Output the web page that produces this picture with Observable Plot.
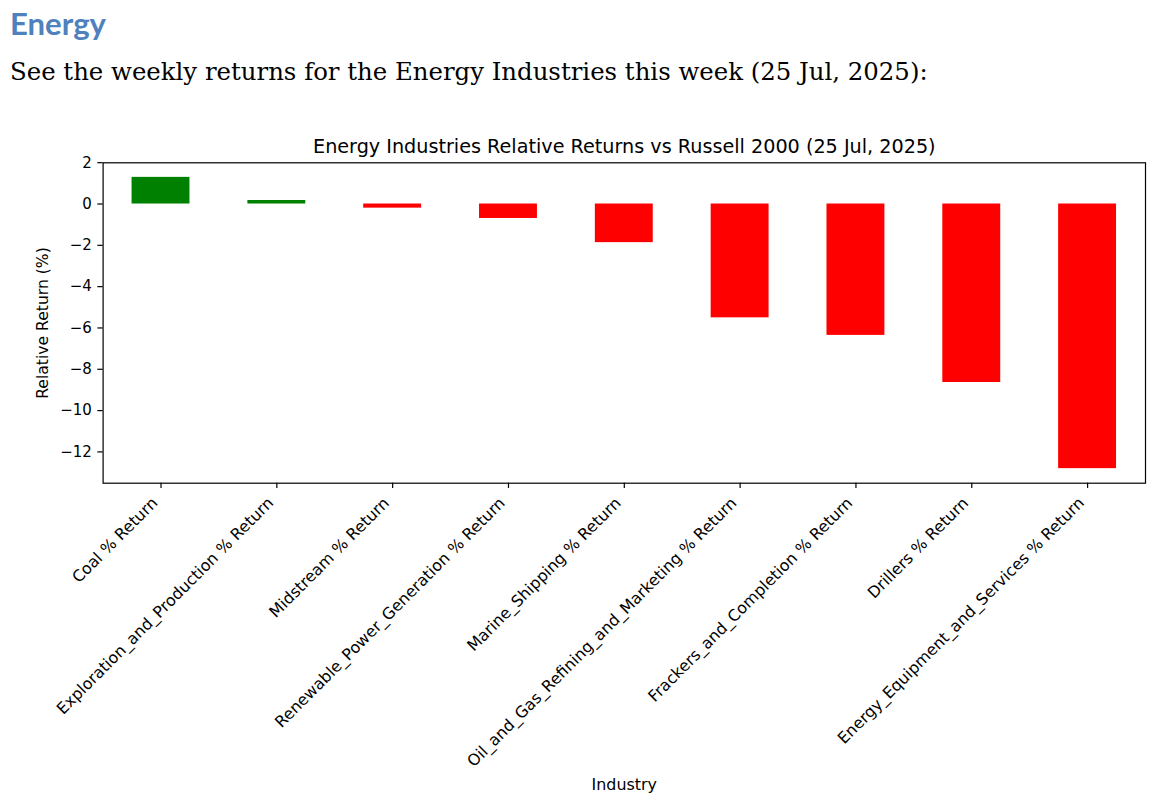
<!DOCTYPE html>
<html>
<head>
<meta charset="utf-8">
<script src="https://cdn.jsdelivr.net/npm/d3@7"></script>
<script src="https://cdn.jsdelivr.net/npm/@observablehq/plot@0.6"></script>
<style>
  html, body { margin: 0; padding: 0; background: #fff; }
  #page { position: relative; width: 1156px; height: 802px; overflow: hidden; background: #fff; }
  .hdr { position: absolute; white-space: nowrap; margin: 0; }
  #h1 { font-family: Lato, "Open Sans", sans-serif; font-weight: bold; color: #4F81BD; }
  #h2 { font-family: "DejaVu Serif", serif; color: #000; }
  #chart { position: absolute; left: 0; top: 100px; }
</style>
</head>
<body>
<div id="page">
  <div id="h1" class="hdr">Energy</div>
  <div id="h2" class="hdr">See the weekly returns for the Energy Industries this week (25 Jul, 2025):</div>
  <div id="chart"></div>
</div>
<script>
// ---- Data ----
const industries = [
  "Coal % Return",
  "Exploration_and_Production % Return",
  "Midstream % Return",
  "Renewable_Power_Generation % Return",
  "Marine_Shipping % Return",
  "Oil_and_Gas_Refining_and_Marketing % Return",
  "Frackers_and_Completion % Return",
  "Drillers % Return",
  "Energy_Equipment_and_Services % Return"
];
const returns = [1.29, 0.17, -0.20, -0.70, -1.87, -5.51, -6.36, -8.64, -12.81];
const yTicks = [2, 0, -2, -4, -6, -8, -10, -12];
const chartTitle = "Energy Industries Relative Returns vs Russell 2000 (25 Jul, 2025)";
const xLabel = "Industry";
const yLabel = "Relative Return (%)";

const data = industries.map((industry, i) => ({industry, value: returns[i]}));

// ---- Header fitting ----
function fitHeader(el, family, weight, targetWidth, left, baseline) {
  const c = document.createElement("canvas").getContext("2d");
  c.font = `${weight} 100px ${family}`;
  const m = c.measureText(el.textContent);
  const size = 100 * targetWidth / m.width;
  c.font = `${weight} ${size}px ${family}`;
  const m2 = c.measureText(el.textContent);
  const asc = m2.fontBoundingBoxAscent, desc = m2.fontBoundingBoxDescent;
  el.style.fontSize = size + "px";
  el.style.lineHeight = size + "px";
  el.style.left = left + "px";
  el.style.top = (baseline - (asc + (size - (asc + desc)) / 2)) + "px";
}
fitHeader(document.getElementById("h1"), "Lato", "bold", 96, 10, 36);
fitHeader(document.getElementById("h2"), "'DejaVu Serif'", "normal", 918, 10, 81);

// ---- Chart ----
const vmax = d3.max(returns), vmin = d3.min(returns);
const pad = (vmax - vmin) * 0.05;
const fmt = d => d < 0 ? "\u2212" + Math.abs(d) : String(d);

const H = 702;
const plot = Plot.plot({
  width: 1156,
  height: H,
  marginTop: 62.3,
  marginBottom: H - 382.7,
  marginLeft: 102.6,
  marginRight: 11,
  style: {fontFamily: "'DejaVu Sans', sans-serif", fontSize: "15px", color: "black", background: "white"},
  x: {type: "band", domain: industries, paddingInner: 0.5, paddingOuter: 0.25, align: 0.5, round: false},
  y: {domain: [vmin - pad, vmax + pad]},
  color: {type: "identity"},
  marks: [
    Plot.barY(data, {x: "industry", y: "value", fill: d => d.value >= 0 ? "green" : "red"}),
    Plot.frame({stroke: "black", strokeWidth: 1.2}),
    Plot.axisY({ticks: yTicks, tickSize: 5.25, tickPadding: 6, tickFormat: fmt, label: null, strokeWidth: 1.2}),
    Plot.axisX({tickSize: 5.25, tickFormat: () => "", label: null, strokeWidth: 1.2}),
    Plot.text(industries, {x: d => d, frameAnchor: "bottom", rotate: -45, textAnchor: "end", lineAnchor: "bottom", dx: -2.5, dy: 20.8, fontSize: 15.9, fill: "black"}),
    Plot.text([chartTitle], {frameAnchor: "top", lineAnchor: "bottom", dy: -9.6, fontSize: 19.2, fill: "black", text: d => d}),
    Plot.text([yLabel], {frameAnchor: "left", rotate: -90, textAnchor: "middle", lineAnchor: "bottom", dx: -55.6, fontSize: 15.6, fill: "black", text: d => d}),
    Plot.text([xLabel], {frameAnchor: "bottom", lineAnchor: "bottom", dy: 306.3, fontSize: 15.9, fill: "black", text: d => d})
  ]
});
document.getElementById("chart").appendChild(plot);
</script>
</body>
</html>
